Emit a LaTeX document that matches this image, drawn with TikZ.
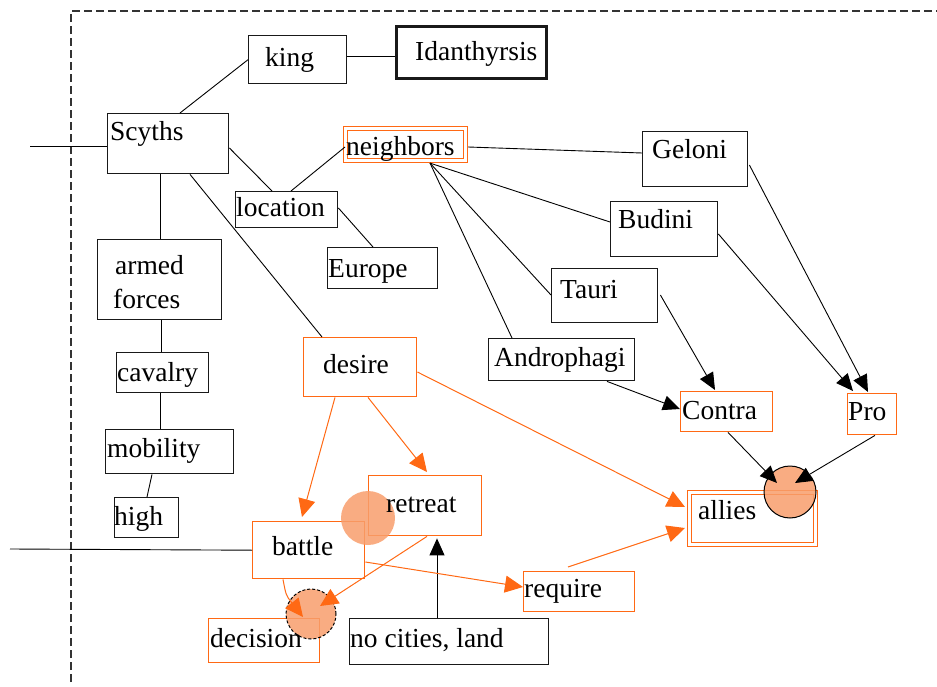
\documentclass[tikz,border=0pt]{standalone}
\usepackage{fontspec}
\setmainfont{Liberation Serif}
\usetikzlibrary{arrows.meta,calc}
\definecolor{orng}{RGB}{255,105,20}
\definecolor{dither}{RGB}{248,158,108}
\newcommand\mybox[6]{\node[#1, minimum width={#4-#2}, minimum height={#5-#3}, anchor=north west] (#6) at (#2,#3) {};}
\newcommand\mytext[4]{\node[txt] (#1) at (#2,#3) {#4};}
\begin{document}
\begin{tikzpicture}[x=1pt,y=-1pt,
  box/.style={draw=black!90, line width=1.4pt, inner sep=0pt, rectangle},
  obox/.style={draw=orng, line width=1.4pt, inner sep=0pt, rectangle},
  dbox/.style={draw=orng, double=white, double distance=2.2pt, line width=1.1pt, inner sep=0pt, rectangle},
  txt/.style={inner sep=0pt, anchor=base west, font=\fontsize{27.5}{33}\selectfont},
  bl/.style={draw=black, line width=0.9pt},
  ol/.style={draw=orng, line width=1pt},
  barr/.style={bl, -{Triangle[length=17pt,width=15pt]}},
  oarr/.style={ol, -{Triangle[length=18pt,width=17pt]}},
  circ/.style={circle, fill=dither, fill opacity=0.85, inner sep=0pt},
  frame/.style={draw=black!80, line width=1.3pt, dash pattern=on 8pt off 4pt}]
\useasboundingbox (0,0) rectangle (937,687);
% frame
\draw[frame] (71,682) -- (71,11) -- (937,11);
% boxes
\mybox{box}{248}{35}{346}{83}{king}
\mybox{box, line width=2.6pt}{395}{25}{545}{77}{ida}
\mybox{box}{107}{113}{228}{173}{scy}
\mybox{dbox}{345}{128}{465}{160}{nei}
\mybox{box}{642}{131}{747}{186}{gel}
\mybox{box}{235}{191}{337}{227}{loc}
\mybox{box}{610}{201}{717}{256}{bud}
\mybox{box}{97}{239}{221}{319}{arm}
\mybox{box}{327}{247}{437}{288}{eur}
\mybox{box}{551}{268}{657}{322}{tau}
\mybox{obox}{303}{337}{416}{396}{des}
\mybox{box}{488}{338}{634}{380}{andr}
\mybox{box}{116}{352}{208}{392}{cav}
\mybox{obox}{680}{391}{772}{431}{con}
\mybox{obox}{847}{393}{896}{434}{pro}
\mybox{box}{105}{429}{233}{473}{mob}
\mybox{obox}{368}{475}{481}{535}{ret}
\mybox{dbox}{689}{492}{815}{544}{all}
\mybox{box}{114}{497}{178}{537}{hig}
\mybox{obox}{252}{521}{364}{578}{bat}
\mybox{obox}{523}{571}{634}{611}{req}
\mybox{obox}{208}{618}{319}{662}{dec}
\mybox{box}{349}{618}{548}{664}{noc}
% circles
\node[circ, draw=black, line width=1pt, minimum size=52pt] (ac) at (790,492) {};
\node[circ, minimum size=54pt] (rc) at (368,518) {};
\node[circ, draw=black, line width=1pt, densely dashed, minimum size=50pt] (dc) at (311,614) {};
% free ends
\coordinate (inS) at (30,146);
\coordinate (inB) at (10,549);
% black connectors
\draw[bl] (inS) -- ($(scy.north west)+(0,33)$);
\draw[bl] (inB) -- (bat.west);
\draw[bl] ($(king.north east)+(0,21)$) -- ($(ida.north west)+(0,31)$);
\draw[bl] (king.west) -- ($(scy.north west)+(73,0)$);
\draw[bl] ($(scy.north east)+(0,35)$) -- ($(loc.north west)+(37,0)$);
\draw[bl] ($(loc.north west)+(56,0)$) -- ($(nei.north west)+(0,19)$);
\draw[bl] ($(scy.south west)+(53,0)$) -- ($(arm.north west)+(63,0)$);
\draw[bl] ($(scy.south west)+(83,0)$) -- ($(des.north west)+(19,0)$);
\draw[bl] ($(loc.north east)+(0,17)$) -- ($(eur.north west)+(46,0)$);
\draw[bl] ($(arm.south west)+(64,0)$) -- ($(cav.north west)+(45,0)$);
\draw[bl] ($(cav.south west)+(44,0)$) -- ($(mob.north west)+(55,0)$);
\draw[bl] ($(mob.south west)+(47,0)$) -- ($(hig.north west)+(33,0)$);
\draw[bl] ($(nei.north east)+(2,19)$) -- ($(gel.north west)+(0,22)$);
\draw[bl] ($(nei.south west)+(85,2)$) -- ($(bud.north west)+(0,21)$);
\draw[bl] ($(nei.south west)+(85,2)$) -- ($(tau.north west)+(0,27)$);
\draw[bl] ($(nei.south west)+(85,2)$) -- ($(andr.north west)+(24,0)$);
\draw[barr] ($(gel.north east)+(1,34)$) -- ($(pro.north west)+(21,-1)$);
\draw[barr] ($(bud.north east)+(0,33)$) -- ($(pro.north west)+(6,-2)$);
\draw[barr] ($(tau.north east)+(2,27)$) -- ($(con.north west)+(35,-1)$);
\draw[barr] ($(andr.south west)+(119,0)$) -- ($(con.north west)+(0,18)$);
\draw[barr] ($(con.south west)+(48,0)$) -- ($(ac.center)+(-13,-9)$);
\draw[barr] ($(pro.south west)+(28,0)$) -- ($(ac.center)+(5,-9)$);
\draw[barr] ($(noc.north west)+(88,0)$) -- ($(ret.south west)+(69,2)$);
% orange connectors
\draw[oarr] ($(des.south west)+(32,0)$) -- ($(bat.north west)+(50,-4)$);
\draw[oarr] ($(des.south west)+(65,0)$) -- ($(ret.north west)+(59,-3)$);
\draw[oarr] ($(des.north east)+(0,35)$) -- ($(all.north west)+(-4,15)$);
\draw[oarr] ($(req.north west)+(45,-4)$) -- ($(all.north west)+(-4,36)$);
\draw[oarr] ($(bat.north east)+(0,41)$) -- ($(req.north west)+(0,16)$);
\draw[oarr] ($(ret.south west)+(59,0)$) -- ($(dc.center)+(9,-8)$);
\draw[oarr] ($(bat.south west)+(31,0)$) .. controls ($(bat.south west)+(34,16)$) .. ($(dc.center)+(-8,3)$);
% texts
\mytext{kingT}{265}{67}{king}
\mytext{idaT}{415}{61}{Idanthyrsis}
\mytext{scyT}{110}{141}{Scyths}
\mytext{neiT}{346}{156}{neighbors}
\mytext{gelT}{652}{159}{Geloni}
\mytext{locT}{236}{217}{location}
\mytext{budT}{618}{229}{Budini}
\mytext{armT}{115}{274}{armed}
\mytext{forT}{113}{308}{forces}
\mytext{eurT}{328}{277}{Europe}
\mytext{tauT}{560}{298}{Tauri}
\mytext{desT}{323}{373}{desire}
\mytext{andT}{494}{366}{Androphagi}
\mytext{cavT}{117}{381}{cavalry}
\mytext{conT}{682}{419}{Contra}
\mytext{proT}{848}{420}{Pro}
\mytext{mobT}{107}{457}{mobility}
\mytext{retT}{386}{512}{retreat}
\mytext{allT}{698}{519}{allies}
\mytext{higT}{114}{525}{high}
\mytext{batT}{272}{555}{battle}
\mytext{reqT}{524}{597}{require}
\mytext{decT}{210}{647}{decision}
\mytext{nocT}{350}{647}{no cities, land}
\end{tikzpicture}
\end{document}
